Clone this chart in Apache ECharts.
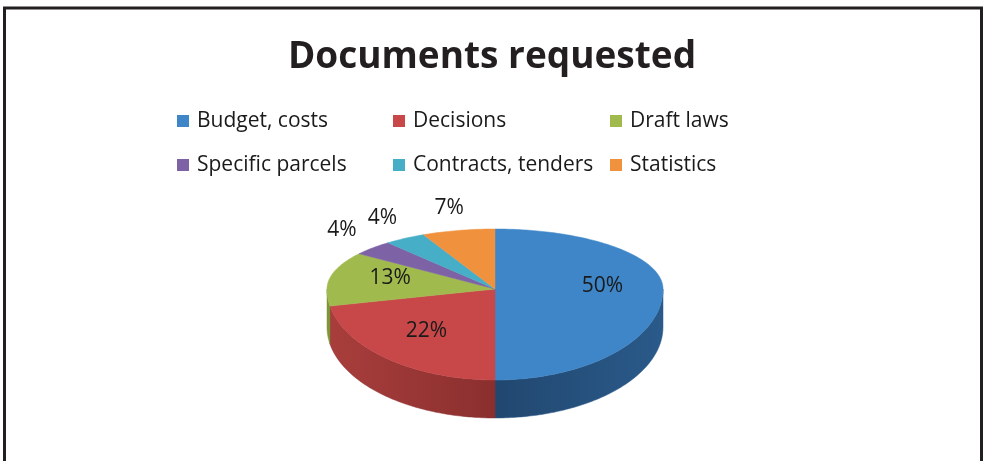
<!DOCTYPE html>
<html>
<head>
<meta charset="utf-8">
<script src="https://cdn.jsdelivr.net/npm/echarts@6/dist/echarts.min.js"></script>
<style>
  html, body { margin: 0; padding: 0; background: #fff; }
  #chart { width: 984px; height: 461px; }
</style>
</head>
<body>
<div id="chart"></div>
<script>
const categories = ['Budget, costs', 'Decisions', 'Draft laws', 'Specific parcels', 'Contracts, tenders', 'Statistics']
const shares = [50, 22, 13, 4, 4, 7]

const topColors = ['#3e86c8', '#c8484a', '#a0ba4e', '#7d62a5', '#46aec7', '#f0913e']
const sideColors = [
  ['#21476f', '#2a5a8a'],
  ['#a83e3c', '#8a2f2e'],
  ['#7f9538', '#7f9538'],
  ['#5f4a80', '#5f4a80'],
  ['#32869a', '#32869a'],
  ['#c0702e', '#c0702e']
]

// pie geometry (polar centre, squash for the tilted look)
const CX = 495
const CY = 289
const R = 168
const K_BACK = 60 / R
const K_FRONT = 91 / R
const DEPTH = 38

const chart = echarts.init(document.getElementById('chart'))
window.addEventListener('resize', chart.resize)

function squash(p) {
  const dy = p[1] - CY
  return [p[0], CY + dy * (dy < 0 ? K_BACK : K_FRONT)]
}

function arcPoints(api, r, from, to) {
  const pts = []
  const steps = Math.max(2, Math.ceil((to - from) / 0.25))
  for (let s = 0; s <= steps; s++) {
    const v = from + (to - from) * s / steps
    pts.push(squash(api.coord([r, v])))
  }
  return pts
}

function makeRender(idx) {
  return function (params, api) {
    const start = shares.slice(0, idx).reduce((a, b) => a + b, 0)
    const end = start + shares[idx]
    const children = []

    // side wall, only the front half (25..75 on the angle axis) shows
    const s = Math.max(start, 25)
    const e = Math.min(end, 75)
    if (s < e) {
      const upper = arcPoints(api, 1, s, e)
      const lower = upper.map(p => [p[0], p[1] + DEPTH]).reverse()
      children.push({
        type: 'polygon',
        shape: { points: upper.concat(lower) },
        style: {
          fill: new echarts.graphic.LinearGradient(0, 0, 1, 0, [
            { offset: 0, color: sideColors[idx][0] },
            { offset: 1, color: sideColors[idx][1] }
          ]),
          stroke: sideColors[idx][1],
          lineWidth: 0.5
        }
      })
    }

    // top face
    const top = [squash(api.coord([0, start]))].concat(arcPoints(api, 1, start, end))
    children.push({
      type: 'polygon',
      shape: { points: top },
      style: { fill: topColors[idx], stroke: topColors[idx], lineWidth: 0.5 }
    })

    // label
    const mid = (start + end) / 2
    const inside = shares[idx] >= 10
    let lp = squash(api.coord([inside ? 0.64 : 1.25, mid]))
    lp = [lp[0], lp[1] + (inside ? -3 : -8)]
    children.push({
      type: 'text',
      style: {
        x: lp[0], y: lp[1],
        text: shares[idx] + '%',
        fill: '#1a1a1a',
        font: '21px "Open Sans"',
        align: 'center',
        verticalAlign: 'middle'
      }
    })

    return { type: 'group', children: children }
  }
}

const legendBase = {
  orient: 'vertical',
  top: 110,
  padding: 0,
  icon: 'rect',
  itemWidth: 12,
  itemHeight: 12,
  itemGap: 22,
  selectedMode: false,
  textStyle: {
    fontFamily: 'Open Sans',
    fontSize: 21,
    lineHeight: 22,
    color: '#1a1a1a',
    padding: [0, 0, 0, 3]
  }
}

const option = {
  animation: false,
  title: {
    text: 'Documents requested',
    left: 'center',
    top: 34,
    textStyle: {
      fontFamily: 'Open Sans',
      fontSize: 37,
      fontWeight: 'bold',
      color: '#231f20'
    }
  },
  legend: [
    Object.assign({}, legendBase, { left: 177, data: [categories[0], categories[3]] }),
    Object.assign({}, legendBase, { left: 393, data: [categories[1], categories[4]] }),
    Object.assign({}, legendBase, { left: 610, data: [categories[2], categories[5]] })
  ],
  polar: { center: [CX, CY], radius: R },
  angleAxis: { type: 'value', min: 0, max: 100, startAngle: 90, clockwise: true, show: false },
  radiusAxis: { type: 'value', min: 0, max: 1, show: false },
  graphic: [{
    type: 'rect',
    shape: { x: 4.5, y: 8, width: 977, height: 470 },
    style: { fill: 'none', stroke: '#231f20', lineWidth: 3 },
    silent: true
  }],
  series: categories.map((name, idx) => ({
    name: name,
    type: 'custom',
    coordinateSystem: 'polar',
    itemStyle: { color: topColors[idx] },
    clip: false,
    data: [[1, shares[idx]]],
    renderItem: makeRender(idx)
  }))
}

chart.setOption(option)
</script>
</body>
</html>
